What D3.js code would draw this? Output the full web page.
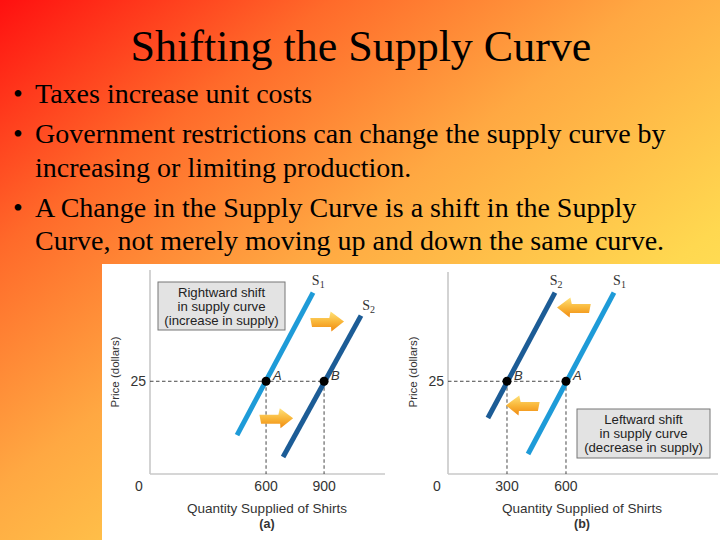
<!DOCTYPE html>
<html><head><meta charset="utf-8">
<script src="https://cdn.jsdelivr.net/npm/d3@7"></script>
<style>html,body{margin:0;padding:0;overflow:hidden;background:#fff}</style>
</head><body>
<script>
// ---------- data ----------
const title = "Shifting the Supply Curve";
const bullets = [
  ["Taxes increase unit costs"],
  ["Government restrictions can change the supply curve by", "increasing or limiting production."],
  ["A Change in the Supply Curve is a shift in the Supply", "Curve, not merely moving up and down the same curve."]
];
const panelNames = ["(a)", "(b)"];
const xTicksA = [0, 600, 900];
const xTicksB = [0, 300, 600];
const yTicks = [25];
const eqPrice = 25;
// supply curves: [q, price] end points
const s1A = [[450, 10.5], [843, 48.9]];
const s2A = [[688, 4.6], [1091, 42.7]];
const s2B = [[203, 15.1], [544, 48.9]];
const s1B = [[407, 5.4], [844, 48.9]];
const pointsA = [{name: "A", q: 600}, {name: "B", q: 900}];
const pointsB = [{name: "B", q: 300}, {name: "A", q: 600}];
const curveLabelsA = [{s: "S", sub: "1", q: 870, p: 51.0}, {s: "S", sub: "2", q: 1130, p: 44.3}];
const curveLabelsB = [{s: "S", sub: "2", q: 550, p: 51.0}, {s: "S", sub: "1", q: 872, p: 51.0}];
const arrowsA = [{q: 910, p: 41.1, dir: 1}, {q: 647, p: 15.0, dir: 1}];
const arrowsB = [{q: 646, p: 44.9, dir: -1}, {q: 386, p: 18.5, dir: -1}];
const boxA = ["Rightward shift", "in supply curve", "(increase in supply)"];
const boxB = ["Leftward shift", "in supply curve", "(decrease in supply)"];
const xTitle = "Quantity Supplied of Shirts";
const yTitle = "Price (dollars)";

// ---------- drawing ----------
const W = 720, H = 540;
const svg = d3.select("body").append("svg").attr("width", W).attr("height", H);
const defs = svg.append("defs");
const bg = defs.append("linearGradient").attr("id", "bg")
  .attr("x1", 0).attr("y1", 0).attr("x2", 1).attr("y2", 1);
[[0, "#ff1010"], [0.23, "#ff6a2a"], [0.45, "#ffa842"], [0.71, "#ffd850"], [1, "#fff064"]]
  .forEach(([o, c]) => bg.append("stop").attr("offset", o).attr("stop-color", c));
const ag = defs.append("linearGradient").attr("id", "arrowGrad")
  .attr("x1", 0).attr("y1", 0).attr("x2", 0).attr("y2", 1);
[[0, "#ffe27a"], [0.5, "#f9b73a"], [1, "#f08a10"]]
  .forEach(([o, c]) => ag.append("stop").attr("offset", o).attr("stop-color", c));

svg.append("rect").attr("width", W).attr("height", H).attr("fill", "url(#bg)");

const serif = "'Liberation Serif','Times New Roman',serif";
const sans = "'Liberation Sans',Arial,Helvetica,sans-serif";

svg.append("text").attr("x", 361).attr("y", 61).attr("text-anchor", "middle")
  .attr("font-family", serif).attr("font-size", 44).attr("fill", "#000").text(title);

const baselines = [[103], [143, 177], [217, 250]];
bullets.forEach((lines, i) => {
  svg.append("text").attr("x", 13).attr("y", baselines[i][0]).attr("font-family", serif)
    .attr("font-size", 28).text("\u2022");
  lines.forEach((ln, j) => {
    svg.append("text").attr("x", 35).attr("y", baselines[i][j]).attr("font-family", serif)
      .attr("font-size", 28).attr("fill", "#000").text(ln);
  });
});

// white picture area
svg.append("rect").attr("x", 102).attr("y", 264).attr("width", W - 102).attr("height", H - 264).attr("fill", "#fff");

const y = d3.scaleLinear().domain([0, 55]).range([474, 270]);

function panel(cfg) {
  const g = svg.append("g");
  const x = d3.scaleLinear().domain([0, cfg.xMax]).range([cfg.x0, cfg.x1]);
  // axes
  g.append("line").attr("x1", cfg.x0).attr("x2", cfg.x0).attr("y1", cfg.yTop).attr("y2", y(0))
    .attr("stroke", "#c8c8c8").attr("stroke-width", 1.6);
  g.append("line").attr("x1", cfg.x0).attr("x2", cfg.x1).attr("y1", y(0)).attr("y2", y(0))
    .attr("stroke", "#c8c8c8").attr("stroke-width", 1.6);
  // tick labels
  g.selectAll(".xt").data(cfg.xTicks).join("text")
    .attr("x", d => d === 0 ? x(0) - 11 : x(d)).attr("y", 491).attr("text-anchor", "middle")
    .attr("font-family", sans).attr("font-size", 14).attr("fill", "#333").text(d => d);
  g.selectAll(".yt").data(yTicks).join("text")
    .attr("x", x(0) - 4).attr("y", d => y(d) + 5).attr("text-anchor", "end")
    .attr("font-family", sans).attr("font-size", 14).attr("fill", "#333").text(d => d);
  // axis titles
  g.append("text").attr("x", cfg.xTitleX).attr("y", 513).attr("text-anchor", "middle")
    .attr("font-family", sans).attr("font-size", 13.5).attr("fill", "#333").text(xTitle);
  g.append("text").attr("x", cfg.xTitleX).attr("y", 528).attr("text-anchor", "middle")
    .attr("font-family", sans).attr("font-size", 12.5).attr("font-weight", "bold").attr("fill", "#333").text(cfg.name);
  g.append("text").attr("transform", `translate(${cfg.x0 - 31},${cfg.yTitleY}) rotate(-90)`)
    .attr("text-anchor", "middle").attr("font-family", sans).attr("font-size", 11.5)
    .attr("fill", "#333").text(yTitle);
  // dashed guides
  const maxQ = d3.max(cfg.points, d => d.q);
  g.append("line").attr("x1", x(0)).attr("x2", x(maxQ)).attr("y1", y(eqPrice)).attr("y2", y(eqPrice))
    .attr("stroke", "#333").attr("stroke-width", 0.9).attr("stroke-dasharray", "3.5,2.5");
  g.selectAll(".vg").data(cfg.points).join("line")
    .attr("x1", d => x(d.q)).attr("x2", d => x(d.q)).attr("y1", y(eqPrice)).attr("y2", y(0))
    .attr("stroke", "#333").attr("stroke-width", 0.9).attr("stroke-dasharray", "3.5,2.5");
  // supply lines
  const line = d3.line().x(d => x(d[0])).y(d => y(d[1]));
  cfg.curves.forEach(c => {
    g.append("path").attr("d", line(c.data)).attr("stroke", c.color).attr("stroke-width", 5)
      .attr("fill", "none");
  });
  // points
  g.selectAll(".pt").data(cfg.points).join("circle")
    .attr("cx", d => x(d.q)).attr("cy", y(eqPrice)).attr("r", 4.5).attr("fill", "#000");
  g.selectAll(".pl").data(cfg.points).join("text")
    .attr("x", d => x(d.q) + 7).attr("y", y(eqPrice) - 1)
    .attr("font-family", sans).attr("font-style", "italic").attr("font-size", 13).attr("fill", "#333")
    .text(d => d.name);
  // curve labels
  cfg.curveLabels.forEach(c => {
    const t = g.append("text").attr("x", x(c.q)).attr("y", y(c.p)).attr("text-anchor", "middle")
      .attr("font-family", serif).attr("font-size", 14).attr("fill", "#333");
    t.append("tspan").text(c.s);
    t.append("tspan").attr("font-size", 10).attr("dy", 3).text(c.sub);
  });
  // arrows
  cfg.arrows.forEach(a => {
    const cx = x(a.q), cy = y(a.p);
    const p = "M-17,-3.5 L2,-3.5 L1,-10 L18,0 L9,10 L7,5.5 L-12,5.5 Z";
    g.append("path").attr("d", p)
      .attr("transform", `translate(${cx},${cy}) scale(${a.dir},1) skewX(-20)`)
      .attr("fill", "url(#arrowGrad)");
  });
  // legend box
  const bx = cfg.box;
  g.append("rect").attr("x", bx.x).attr("y", bx.y).attr("width", bx.w).attr("height", bx.h)
    .attr("fill", "#e3e3e3").attr("stroke", "#777").attr("stroke-width", 1);
  bx.lines.forEach((ln, i) => {
    g.append("text").attr("x", bx.x + bx.w / 2).attr("y", bx.y + 15 + i * 14)
      .attr("text-anchor", "middle").attr("font-family", sans).attr("font-size", 13.2)
      .attr("fill", "#222").text(ln);
  });
}

panel({
  name: panelNames[0], x0: 150, x1: 385, xMax: 1215, yTop: 270, xTicks: xTicksA,
  xTitleX: 267, yTitleY: 372, points: pointsA,
  curves: [{data: s1A, color: "#1e9bd8"}, {data: s2A, color: "#1c5c96"}],
  curveLabels: curveLabelsA, arrows: arrowsA,
  box: {x: 158, y: 282, w: 127, h: 48, lines: boxA}
});
panel({
  name: panelNames[1], x0: 448, x1: 718, xMax: 1373, yTop: 272, xTicks: xTicksB,
  xTitleX: 582, yTitleY: 372, points: pointsB,
  curves: [{data: s2B, color: "#1c5c96"}, {data: s1B, color: "#1e9bd8"}],
  curveLabels: curveLabelsB, arrows: arrowsB,
  box: {x: 577, y: 409, w: 133, h: 49, lines: boxB}
});
</script>
</body></html>
